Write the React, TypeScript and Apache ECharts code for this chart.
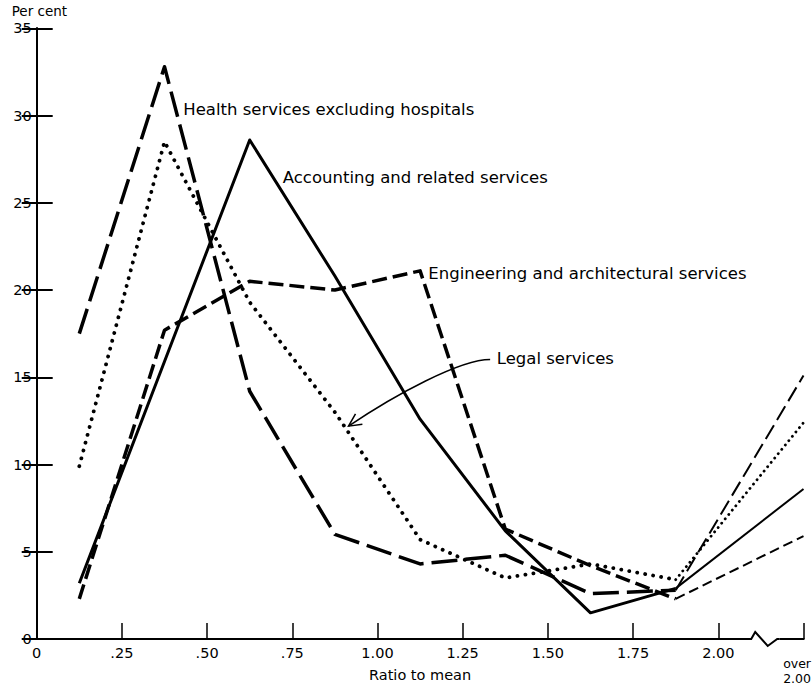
import React, { useEffect, useRef } from "react";
import * as echarts from "echarts";

// ---- Data ----
const xPositions = [0.125, 0.375, 0.625, 0.875, 1.125, 1.375, 1.625, 1.875, 2.25];
const healthValues = [17.5, 32.8, 14.2, 6.0, 4.3, 4.8, 2.6, 2.8, 15.1];
const accountingValues = [3.2, 15.9, 28.6, 20.8, 12.6, 6.2, 1.5, 2.9, 8.6];
const engineeringValues = [2.3, 17.7, 20.5, 20.0, 21.1, 6.3, 4.2, 2.3, 5.9];
const legalValues = [9.9, 28.5, 19.3, 13.0, 5.7, 3.5, 4.3, 3.4, 12.4];

const xTickValues = [0, 0.25, 0.5, 0.75, 1.0, 1.25, 1.5, 1.75, 2.0, 2.25];
const xTickLabels = ["0", ".25", ".50", ".75", "1.00", "1.25", "1.50", "1.75", "2.00", ""];
const overLabelLines = ["over", "2.00"];
const yTickLabels = ["0", "5", "10", "15", "20", "25", "30", "35"];

const seriesNames = [
  "Health services excluding hospitals",
  "Accounting and related services",
  "Engineering and architectural services",
  "Legal services",
];

// annotation anchors (data coordinates)
const labelAnchors: [number, number][] = [
  [0.43, 30.35],
  [0.722, 26.46],
  [1.149, 20.96],
  [1.35, 16.1],
];
const arrowCurve: [number, number][] = [
  [1.3305, 16.02],
  [1.2425, 16.02],
  [1.0517, 14.01],
  [0.915, 12.2],
];

const FONT = "DejaVu Sans";

export default function App() {
  const ref = useRef<HTMLDivElement>(null);

  useEffect(() => {
    document.body.style.margin = "0";
    const chart = echarts.init(ref.current!, null, { renderer: "svg" });

    const valueSets = [healthValues, accountingValues, engineeringValues, legalValues];
    const styles = [
      { main: { width: 3.5, type: [26, 8], cap: "butt" }, tail: { width: 2, type: [16, 6], cap: "butt" } },
      { main: { width: 3, type: "solid", cap: "butt" }, tail: { width: 2, type: "solid", cap: "butt" } },
      { main: { width: 3.5, type: [15, 6], cap: "butt" }, tail: { width: 2, type: [10, 5], cap: "butt" } },
      { main: { width: 3.8, type: [0.1, 8], cap: "round" }, tail: { width: 2.8, type: [0.1, 5.5], cap: "round" } },
    ];

    const mk = (vals: number[], from: number, to: number) =>
      xPositions.slice(from, to).map((x, i) => [x, vals[from + i]]);

    const series: any[] = [];
    valueSets.forEach((vals, k) => {
      const st = styles[k];
      series.push({
        type: "line",
        name: seriesNames[k],
        data: mk(vals, 0, 8),
        symbol: "none",
        silent: true,
        lineStyle: { color: "#000", width: st.main.width, type: st.main.type, cap: st.main.cap, join: "round" },
      });
      series.push({
        type: "line",
        name: seriesNames[k] + " (over 2.00)",
        data: mk(vals, 7, 9),
        symbol: "none",
        silent: true,
        lineStyle: { color: "#000", width: st.tail.width, type: st.tail.type, cap: st.tail.cap, join: "round" },
      });
    });

    const axisCommon = {
      type: "value" as const,
      splitLine: { show: false },
    };

    chart.setOption({
      animation: false,
      backgroundColor: "#fff",
      grid: { left: 36.7, right: 8.5, top: 28.3, bottom: 44, containLabel: false },
      xAxis: [
        {
          ...axisCommon,
          min: 0,
          max: 2.25,
          interval: 0.25,
          position: "bottom",
          axisLine: { show: true, lineStyle: { color: "#000", width: 2 } },
          axisTick: { show: true, inside: true, length: 16, lineStyle: { color: "#000", width: 1.5 } },
          axisLabel: {
            show: true,
            margin: 6,
            color: "#000",
            fontFamily: FONT,
            fontSize: 14.5,
            showMinLabel: true,
            showMaxLabel: true,
            formatter: (v: number) => {
              const i = xTickValues.findIndex((t) => Math.abs(t - v) < 1e-6);
              return i >= 0 ? xTickLabels[i] : "";
            },
          },
          name: "Ratio to mean",
          nameLocation: "middle",
          nameGap: 28,
          nameTextStyle: { color: "#000", fontFamily: FONT, fontSize: 14.5, verticalAlign: "top" },
        },
        {
          ...axisCommon,
          min: 0,
          max: 2.25,
          position: "top",
          axisLine: { show: true, lineStyle: { color: "#000", width: 2 } },
          axisTick: { show: false },
          axisLabel: { show: false },
        },
      ],
      yAxis: [
        {
          ...axisCommon,
          min: 0,
          max: 35,
          interval: 5,
          position: "left",
          axisLine: { show: true, lineStyle: { color: "#000", width: 2 } },
          axisTick: { show: true, inside: true, length: 16, lineStyle: { color: "#000", width: 2 } },
          axisLabel: {
            show: true,
            margin: 5,
            color: "#000",
            fontFamily: FONT,
            fontSize: 14.5,
            formatter: (v: number) => yTickLabels[Math.round(v / 5)] ?? "",
          },
        },
        {
          ...axisCommon,
          min: 0,
          max: 35,
          interval: 5,
          position: "right",
          axisLine: { show: true, lineStyle: { color: "#000", width: 2 } },
          axisTick: { show: true, inside: true, length: 15, lineStyle: { color: "#000", width: 2 } },
          axisLabel: { show: false },
        },
      ],
      series,
    });

    const px = (p: [number, number]) => chart.convertToPixel({ seriesIndex: 0 }, p) as number[];

    const graphics: any[] = [];

    // "Per cent" title
    const topLeft = px([0, 35]);
    graphics.push({
      type: "text",
      x: topLeft[0] - 25,
      y: topLeft[1] - 17,
      style: { text: "Per cent", fontFamily: FONT, fontSize: 13.5, fill: "#000", align: "left", verticalAlign: "middle" },
    });

    // series labels
    labelAnchors.forEach((a, i) => {
      const p = px(a);
      graphics.push({
        type: "text",
        x: p[0],
        y: p[1],
        style: { text: seriesNames[i], fontFamily: FONT, fontSize: 16.5, fill: "#000", align: "left", verticalAlign: "middle" },
      });
    });

    // arrow for "Legal services"
    const [a0, a1, a2, a3] = arrowCurve.map(px);
    graphics.push({
      type: "bezierCurve",
      shape: { x1: a0[0], y1: a0[1], cpx1: a1[0], cpy1: a1[1], cpx2: a2[0], cpy2: a2[1], x2: a3[0], y2: a3[1] },
      style: { stroke: "#000", lineWidth: 1.5, fill: null },
    });
    const dx = a3[0] - a2[0];
    const dy = a3[1] - a2[1];
    const len = Math.hypot(dx, dy);
    const ux = dx / len;
    const uy = dy / len;
    const head = 14;
    const ang = (26 * Math.PI) / 180;
    const rot = (c: number, s: number) => [ux * c - uy * s, ux * s + uy * c];
    const r1 = rot(Math.cos(ang), Math.sin(ang));
    const r2 = rot(Math.cos(ang), -Math.sin(ang));
    graphics.push({
      type: "polyline",
      shape: {
        points: [
          [a3[0] - head * r1[0], a3[1] - head * r1[1]],
          [a3[0], a3[1]],
          [a3[0] - head * r2[0], a3[1] - head * r2[1]],
        ],
      },
      style: { stroke: "#000", lineWidth: 1.5, fill: null },
    });

    // axis break near 2.12
    const b0 = px([2.09, 0]);
    const b1 = px([2.18, 0]);
    graphics.push({
      type: "rect",
      shape: { x: b0[0], y: b0[1] - 3, width: b1[0] - b0[0], height: 6 },
      style: { fill: "#fff" },
      z: 100,
    });
    const z0 = px([2.0966, 0]);
    const z1 = px([2.1083, 0]);
    const z2 = px([2.145, 0]);
    const z3 = px([2.1728, 0]);
    graphics.push({
      type: "polyline",
      shape: {
        points: [
          [b0[0], b0[1]],
          [z0[0], z0[1]],
          [z1[0], z1[1] - 7],
          [z2[0], z2[1] + 7],
          [z3[0], z3[1]],
          [b1[0], b1[1]],
        ],
      },
      style: { stroke: "#000", lineWidth: 2, fill: null },
      z: 101,
    });

    // "over 2.00" label
    const ov = px([2.25, 0]);
    overLabelLines.forEach((t, i) => {
      graphics.push({
        type: "text",
        x: 811,
        y: ov[1] + 24 + i * 15,
        style: { text: t, fontFamily: FONT, fontSize: 12.5, fill: "#000", align: "right", verticalAlign: "middle" },
      });
    });

    chart.setOption({ graphic: graphics });

    return () => chart.dispose();
  }, []);

  return (
    <div
      ref={ref}
      style={{ position: "fixed", left: 0, top: 0, width: 812, height: 687, background: "#fff" }}
    />
  );
}
